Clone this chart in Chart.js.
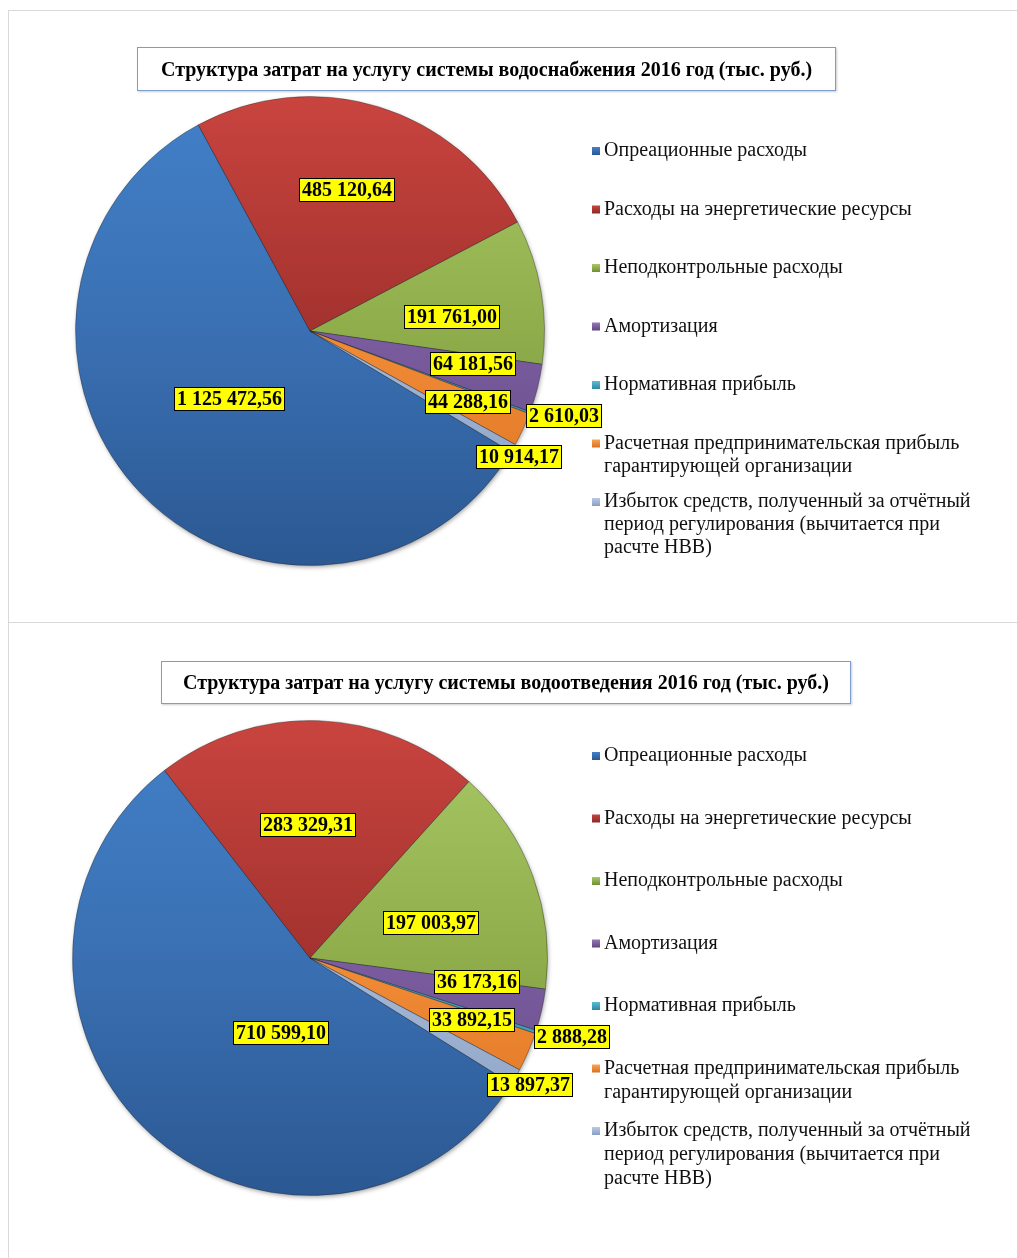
<!DOCTYPE html>
<html><head><meta charset="utf-8">
<script src="https://cdn.jsdelivr.net/npm/chart.js@4.4.1/dist/chart.umd.min.js"></script>
<style>
body{margin:0;background:#fff;width:1017px;height:1258px;overflow:hidden;position:relative;font-family:'Liberation Serif',serif}
.frame{position:absolute;border-top:1px solid #d9d9d9;border-left:1px solid #d9d9d9;}
.title{position:absolute;border:1px solid #7d9dcc;box-shadow:1px 1px 2px rgba(0,0,0,0.2);background:#fff;font:bold 20px 'Liberation Serif',serif;display:flex;align-items:center;justify-content:center;box-sizing:border-box;color:#000;white-space:nowrap}
canvas{position:absolute}
</style></head><body>
<div class="frame" style="left:8px;top:10px;width:1020px;height:612px"></div>
<div class="frame" style="left:8px;top:622px;width:1020px;height:640px"></div>
<canvas id="c1" width="1008" height="611" style="left:9px;top:11px"></canvas>
<canvas id="c2" width="1008" height="635" style="left:9px;top:623px"></canvas>
<div class="title" id="t1" style="left:137px;top:47px;width:699px;height:44px"></div>
<div class="title" id="t2" style="left:161px;top:661px;width:690px;height:43px"></div>
<script>
// ---- data ----
const categories = [
  ['Опреационные расходы'],
  ['Расходы на энергетические ресурсы'],
  ['Неподконтрольные расходы'],
  ['Амортизация'],
  ['Нормативная прибыль'],
  ['Расчетная предпринимательская прибыль', 'гарантирующей организации'],
  ['Избыток средств, полученный за отчётный', 'период регулирования (вычитается при', 'расчте НВВ)']
];
const waterSupplyValues = [1125472.56, 485120.64, 191761.00, 64181.56, 2610.03, 44288.16, 10914.17];
const wastewaterValues  = [710599.10, 283329.31, 197003.97, 36173.16, 2888.28, 33892.15, 13897.37];
const waterSupplyTitle = 'Структура  затрат на услугу системы водоснабжения 2016 год (тыс. руб.)';
const wastewaterTitle  = 'Структура затрат на услугу системы водоотведения 2016 год (тыс. руб.)';

// ---- styles ----
const palette = [
  ['#4280c8', '#3a70b3', '#2b5892'],
  ['#c9443f', '#a3322e', '#8a2a27'],
  ['#a9c866', '#8fad4b', '#738e35'],
  ['#9579b8', '#7b5d9f', '#5f4580'],
  ['#5cbcd6', '#46a5c0', '#2f87a0'],
  ['#fba357', '#f28b36', '#d9711f'],
  ['#bccbe4', '#a4b7d6', '#889ec3']
];

function fmt(v) {
  const parts = v.toFixed(2).split('.');
  return parts[0].replace(/\B(?=(\d{3})+(?!\d))/g, ' ') + ',' + parts[1];
}

function sliceFill(c) {
  const chart = c.chart, area = chart.chartArea, p = palette[c.dataIndex];
  if (!area) return p[1];
  const g = chart.ctx.createLinearGradient(0, area.top, 0, area.bottom);
  g.addColorStop(0, p[0]); g.addColorStop(0.5, p[1]); g.addColorStop(1, p[2]);
  return g;
}

const pieShadow = {
  id: 'pieShadow',
  beforeDatasetsDraw(chart) {
    const a = chart.getDatasetMeta(0).data[0];
    if (!a) return;
    const ctx = chart.ctx;
    ctx.save();
    ctx.shadowColor = 'rgba(0,0,0,0.45)';
    ctx.shadowBlur = 5; ctx.shadowOffsetX = 1; ctx.shadowOffsetY = 2;
    ctx.fillStyle = '#2b5892';
    ctx.beginPath(); ctx.arc(a.x, a.y, a.outerRadius - 1, 0, Math.PI * 2); ctx.fill();
    ctx.restore();
  }
};

const valueLabels = {
  id: 'valueLabels',
  afterDatasetsDraw(chart, args, o) {
    const ctx = chart.ctx, meta = chart.getDatasetMeta(0), data = chart.data.datasets[0].data;
    ctx.save();
    ctx.font = o.font; ctx.textAlign = 'center'; ctx.textBaseline = 'middle';
    meta.data.forEach((arc, i) => {
      const p = arc.getProps(['x', 'y', 'startAngle', 'endAngle', 'outerRadius'], true);
      const ang = (p.startAngle + p.endAngle) / 2 + o.angleShift[i] * Math.PI / 180;
      const r = p.outerRadius * o.radial[i];
      const cx = p.x + Math.cos(ang) * r, cy = p.y + Math.sin(ang) * r;
      const t = fmt(data[i]);
      const w = Math.round(ctx.measureText(t).width + o.padX * 2), h = o.boxH;
      const x0 = Math.round(cx - w / 2), y0 = Math.round(cy - h / 2);
      ctx.fillStyle = '#ffff00'; ctx.fillRect(x0, y0, w, h);
      ctx.strokeStyle = '#000'; ctx.lineWidth = 1; ctx.strokeRect(x0 + 0.5, y0 + 0.5, w - 1, h - 1);
      ctx.fillStyle = '#000'; ctx.fillText(t, x0 + w / 2, y0 + h / 2 + 1);
    });
    ctx.restore();
  }
};

const sideLegend = {
  id: 'sideLegend',
  afterDraw(chart, args, o) {
    const ctx = chart.ctx;
    ctx.save();
    ctx.font = o.font; ctx.textBaseline = 'middle'; ctx.textAlign = 'left';
    chart.data.labels.forEach((lines, i) => {
      const y = o.y + i * o.step;
      const p = palette[i];
      const g = ctx.createLinearGradient(0, y - 4, 0, y + 4);
      g.addColorStop(0, p[0]); g.addColorStop(1, p[2]);
      ctx.fillStyle = g; ctx.fillRect(o.x - 12, y - 4, 8, 8);
      ctx.fillStyle = '#111';
      lines.forEach((ln, j) => ctx.fillText(ln, o.x, y + j * o.lineHeight));
    });
    ctx.restore();
  }
};

function makeChart(id, values, rotation, padding, legendOpts, labelOpts) {
  return new Chart(document.getElementById(id), {
    type: 'pie',
    data: {
      labels: categories,
      datasets: [{ data: values, backgroundColor: sliceFill, borderColor: 'rgba(30,30,30,0.35)', borderWidth: 1 }]
    },
    options: {
      responsive: false, animation: false, rotation: rotation,
      layout: { padding: padding },
      plugins: { legend: { display: false }, tooltip: { enabled: false }, sideLegend: legendOpts, valueLabels: labelOpts }
    },
    plugins: [pieShadow, valueLabels, sideLegend]
  });
}

document.getElementById('t1').textContent = waterSupplyTitle;
document.getElementById('t2').textContent = wastewaterTitle;

makeChart('c1', waterSupplyValues, 121,
  { left: 66, top: 85, right: 472, bottom: 56 },
  { x: 595, y: 140, step: 58.5, lineHeight: 23, font: '20px "Liberation Serif"' },
  { font: 'bold 20px "Liberation Serif"', padX: 3, boxH: 24,
    radial: [0.45, 0.62, 0.61, 0.71, 1.14, 0.74, 1.04],
    angleShift: [3.6, -2.3, 4, -2.7, -2, -0.7, 1] });

makeChart('c2', wastewaterValues, 122,
  { left: 63, top: 97, right: 469, bottom: 62 },
  { x: 595, y: 133, step: 62.5, lineHeight: 24, font: '20px "Liberation Serif"' },
  { font: 'bold 20px "Liberation Serif"', padX: 3, boxH: 24,
    radial: [0.34, 0.56, 0.53, 0.71, 1.15, 0.73, 1.07],
    angleShift: [-21, -3.1, 4.1, -4.5, -1.4, -2.3, 0] });
</script>
</body></html>
